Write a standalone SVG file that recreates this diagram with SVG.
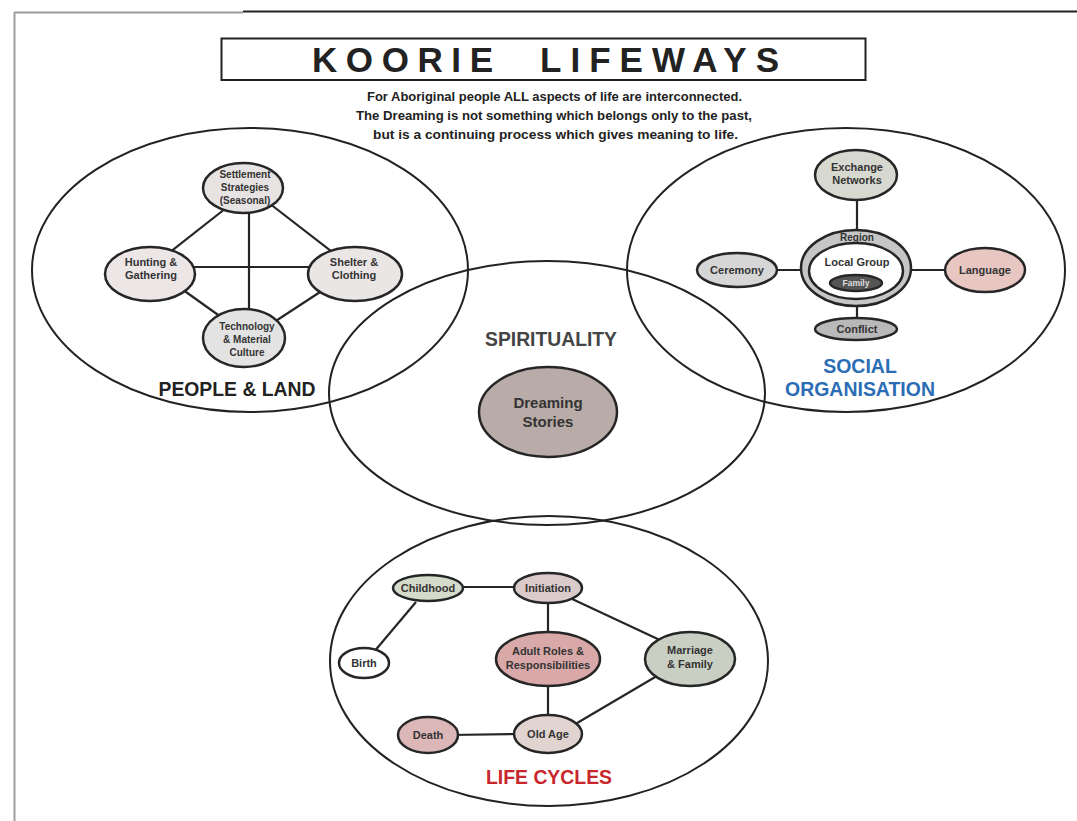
<svg xmlns="http://www.w3.org/2000/svg" width="1077" height="821" viewBox="0 0 1077 821">
  <style>
    .frame { fill: none; stroke: #222; stroke-width: 2; }
    .node { stroke: #262626; stroke-width: 2.5; }
    .link { stroke: #262626; stroke-width: 2.2; fill: none; }
    .lbl { font-family: "Liberation Sans", Arial, sans-serif; font-weight: bold; font-size: 11px; fill: #333; text-anchor: middle; }
    .lbl3 { font-size: 10px; }
    .head { font-family: "Liberation Sans", Arial, sans-serif; font-weight: bold; text-anchor: middle; font-size: 19.5px; }
    .sub { font-family: "Liberation Sans", Arial, sans-serif; font-weight: bold; font-size: 13px; fill: #222; text-anchor: middle; }
    .big { font-family: "Liberation Sans", Arial, sans-serif; font-weight: bold; font-size: 35px; fill: #222; }
  </style>
  <rect width="1077" height="821" fill="#ffffff"/>

  <!-- page edges -->
  <g id="page">
    <line x1="14" y1="12.5" x2="243" y2="12.5" stroke="#9a9a9a" stroke-width="2"/>
    <line x1="243" y1="11.5" x2="1077" y2="11.5" stroke="#222" stroke-width="2"/>
    <line x1="14.5" y1="12" x2="14.5" y2="821" stroke="#a0a0a0" stroke-width="2"/>
  </g>

  <!-- title block -->
  <g id="title">
    <rect x="221.5" y="38.5" width="644" height="41.5" fill="#fff" stroke="#222" stroke-width="2"/>
    <text class="big" x="312" y="72" textLength="181" lengthAdjust="spacing">KOORIE</text>
    <text class="big" x="540" y="72" textLength="239" lengthAdjust="spacing">LIFEWAYS</text>
    <text class="sub" x="554.5" y="101" textLength="375" lengthAdjust="spacingAndGlyphs">For Aboriginal people ALL aspects of life are interconnected.</text>
    <text class="sub" x="554" y="120" textLength="396" lengthAdjust="spacingAndGlyphs">The Dreaming is not something which belongs only to the past,</text>
    <text class="sub" x="555.5" y="139" textLength="365" lengthAdjust="spacingAndGlyphs">but is a continuing process which gives meaning to life.</text>
  </g>

  <!-- the four overlapping domains -->
  <g id="people-land">
    <ellipse class="frame" cx="250" cy="270" rx="218" ry="142"/>
    <text class="head" x="237" y="396" fill="#222" textLength="157" lengthAdjust="spacingAndGlyphs">PEOPLE &amp; LAND</text>
  </g>
  <g id="social-organisation">
    <ellipse class="frame" cx="846" cy="270" rx="219" ry="142"/>
    <text class="head" x="860" y="373" fill="#2a6db5">SOCIAL</text>
    <text class="head" x="860" y="396" fill="#2a6db5" textLength="150" lengthAdjust="spacingAndGlyphs">ORGANISATION</text>
  </g>
  <g id="spirituality">
    <ellipse class="frame" cx="547" cy="393" rx="218" ry="132"/>
    <text class="head" x="551" y="346" fill="#444" textLength="132" lengthAdjust="spacingAndGlyphs">SPIRITUALITY</text>
  </g>
  <g id="life-cycles">
    <ellipse class="frame" cx="549" cy="661" rx="219" ry="145"/>
    <text class="head" x="549" y="784" fill="#c8262c" textLength="126" lengthAdjust="spacingAndGlyphs">LIFE CYCLES</text>
  </g>

  <!-- connectors (ends tucked under the node ellipses) -->
  <g id="connectors" class="link">
    <!-- people & land -->
    <line x1="249" y1="205" x2="249" y2="315"/>
    <line x1="185" y1="267" x2="318" y2="267"/>
    <line x1="160" y1="260" x2="235" y2="201"/>
    <line x1="265" y1="200" x2="340" y2="258"/>
    <line x1="165" y1="277" x2="235" y2="327"/>
    <line x1="265" y1="328" x2="340" y2="279"/>
    <!-- social organisation -->
    <line x1="857" y1="195" x2="857" y2="235"/>
    <line x1="770" y1="270" x2="805" y2="270"/>
    <line x1="905" y1="270" x2="950" y2="270"/>
    <line x1="857" y1="300" x2="857" y2="322"/>
    <!-- life cycles -->
    <line x1="455" y1="587" x2="520" y2="587"/>
    <line x1="416" y1="602" x2="373" y2="653"/>
    <line x1="548" y1="598" x2="548" y2="638"/>
    <line x1="570" y1="598" x2="662" y2="641"/>
    <line x1="548" y1="680" x2="548" y2="720"/>
    <line x1="662" y1="673" x2="572" y2="726"/>
    <line x1="450" y1="735" x2="520" y2="734"/>
  </g>

  <!-- people & land nodes -->
  <g id="settlement">
    <ellipse class="node" cx="243" cy="188" rx="40" ry="25" fill="#e8e3e3"/>
    <text class="lbl lbl3" x="245" y="178">Settlement</text>
    <text class="lbl lbl3" x="245" y="191">Strategies</text>
    <text class="lbl lbl3" x="245" y="204">(Seasonal)</text>
  </g>
  <g id="hunting">
    <ellipse class="node" cx="150" cy="274" rx="45" ry="27" fill="#ece6e6"/>
    <text class="lbl" x="151" y="266">Hunting &amp;</text>
    <text class="lbl" x="151" y="279">Gathering</text>
  </g>
  <g id="shelter">
    <ellipse class="node" cx="355" cy="274" rx="47" ry="27" fill="#ebe6e6"/>
    <text class="lbl" x="354" y="266">Shelter &amp;</text>
    <text class="lbl" x="354" y="279">Clothing</text>
  </g>
  <g id="technology">
    <ellipse class="node" cx="244" cy="338" rx="41" ry="29" fill="#e4e3e3"/>
    <text class="lbl lbl3" x="247" y="330">Technology</text>
    <text class="lbl lbl3" x="247" y="343">&amp; Material</text>
    <text class="lbl lbl3" x="247" y="356">Culture</text>
  </g>

  <!-- social organisation nodes -->
  <g id="exchange">
    <ellipse class="node" cx="856" cy="175" rx="41" ry="25" fill="#d7d9d0"/>
    <text class="lbl" x="857" y="171">Exchange</text>
    <text class="lbl" x="857" y="184">Networks</text>
  </g>
  <g id="region">
    <ellipse class="node" cx="856" cy="268" rx="55" ry="38" fill="#c6c6c6"/>
    <text class="lbl" x="857" y="241" font-size="10" style="font-size:10px">Region</text>
  </g>
  <g id="local-group">
    <ellipse class="node" cx="856" cy="271" rx="47" ry="28" fill="#ffffff"/>
    <text class="lbl" x="857" y="266">Local Group</text>
  </g>
  <g id="family">
    <ellipse class="node" cx="856" cy="283" rx="26" ry="8" fill="#555555" stroke-width="2"/>
    <text class="lbl" x="856" y="286" style="font-size:8.5px; fill:#dddddd">Family</text>
  </g>
  <g id="ceremony">
    <ellipse class="node" cx="737" cy="270" rx="40" ry="17" fill="#d6d6d6"/>
    <text class="lbl" x="737" y="274">Ceremony</text>
  </g>
  <g id="language">
    <ellipse class="node" cx="985" cy="270" rx="40" ry="22" fill="#e8c6c2"/>
    <text class="lbl" x="985" y="274">Language</text>
  </g>
  <g id="conflict">
    <ellipse class="node" cx="856" cy="329" rx="41" ry="11" fill="#b9b9b9"/>
    <text class="lbl" x="857" y="333">Conflict</text>
  </g>

  <!-- spirituality node -->
  <g id="dreaming">
    <ellipse class="node" cx="548" cy="412" rx="69" ry="45" fill="#b9aba7"/>
    <text class="head" x="548" y="408" fill="#333" style="font-size:15px">Dreaming</text>
    <text class="head" x="548" y="427" fill="#333" style="font-size:15px">Stories</text>
  </g>

  <!-- life cycle nodes -->
  <g id="childhood">
    <ellipse class="node" cx="428" cy="588" rx="35" ry="13" fill="#d5dbcb"/>
    <text class="lbl" x="428" y="592">Childhood</text>
  </g>
  <g id="initiation">
    <ellipse class="node" cx="548" cy="588" rx="34" ry="15" fill="#dacaca"/>
    <text class="lbl" x="548" y="592">Initiation</text>
  </g>
  <g id="birth">
    <ellipse class="node" cx="364" cy="663" rx="25" ry="15" fill="#ffffff"/>
    <text class="lbl" x="364" y="667">Birth</text>
  </g>
  <g id="adult">
    <ellipse class="node" cx="548" cy="659" rx="52" ry="27" fill="#d9a9a9"/>
    <text class="lbl" x="548" y="655">Adult Roles &amp;</text>
    <text class="lbl" x="548" y="669">Responsibilities</text>
  </g>
  <g id="marriage">
    <ellipse class="node" cx="690" cy="659" rx="45" ry="27" fill="#cacfc3"/>
    <text class="lbl" x="690" y="654">Marriage</text>
    <text class="lbl" x="690" y="668">&amp; Family</text>
  </g>
  <g id="death">
    <ellipse class="node" cx="428" cy="735" rx="30" ry="18" fill="#dcb7b7"/>
    <text class="lbl" x="428" y="739">Death</text>
  </g>
  <g id="old-age">
    <ellipse class="node" cx="548" cy="734" rx="34" ry="19" fill="#e1d4d0"/>
    <text class="lbl" x="548" y="738">Old Age</text>
  </g>
</svg>
